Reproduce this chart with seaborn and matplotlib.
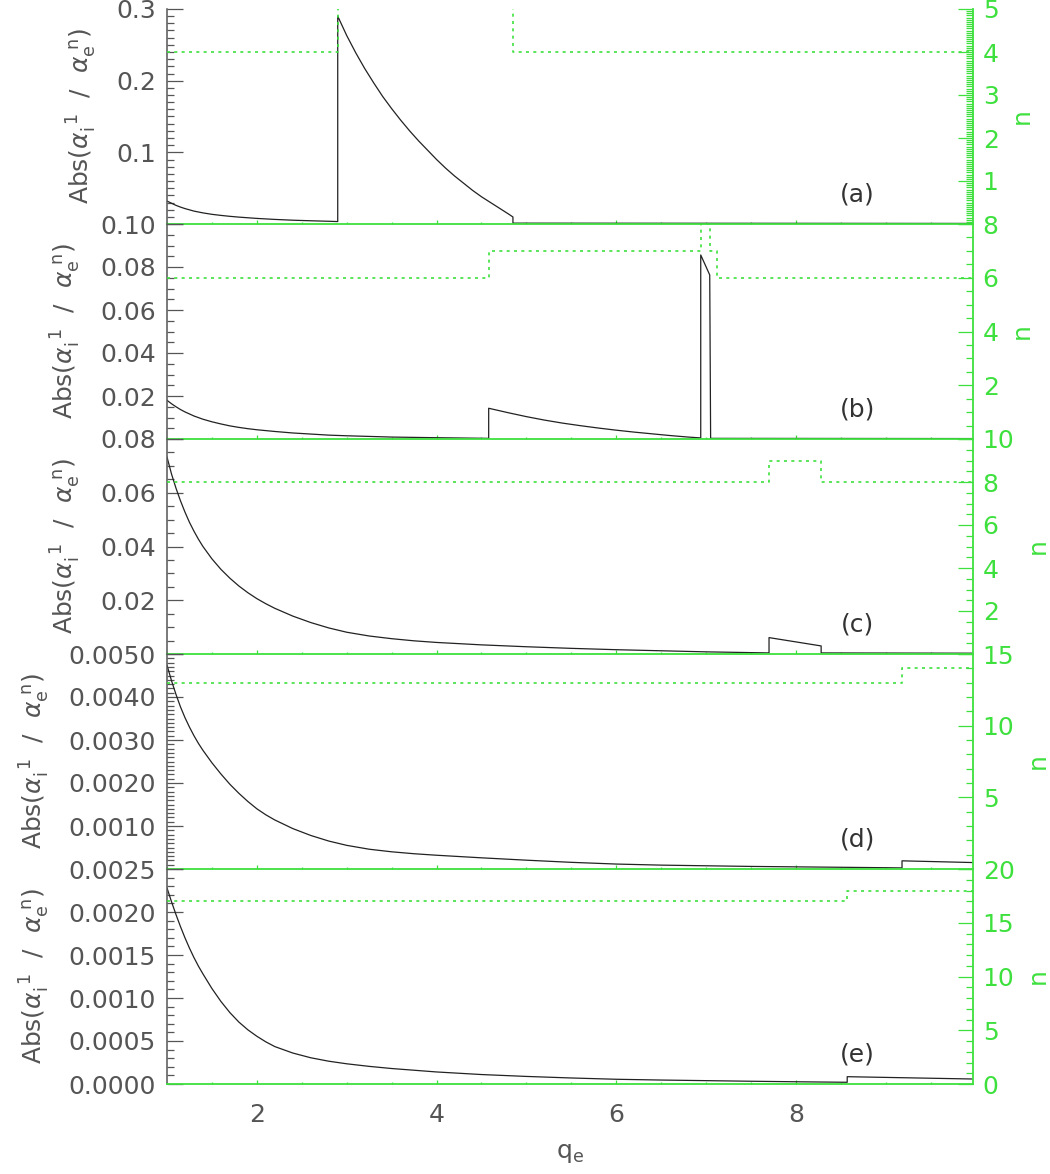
import numpy as np
import pandas as pd
import matplotlib
matplotlib.use("Agg")
import matplotlib.pyplot as plt
import seaborn as sns
from matplotlib.ticker import MultipleLocator, FuncFormatter

# ---------------- data ----------------
# panel (a)
qa = [1.0, 1.05, 1.1, 1.15, 1.2, 1.3, 1.4, 1.5, 1.6, 1.7, 1.8, 2.0, 2.2, 2.4, 2.6,
      2.8, 2.9,
      2.9, 3.0, 3.1, 3.2, 3.3, 3.4, 3.5, 3.6, 3.7, 3.8, 3.9, 4.0, 4.1, 4.2, 4.3,
      4.4, 4.5, 4.6, 4.7, 4.8, 4.85, 4.85, 9.97]
va = [0.032, 0.029, 0.026, 0.0236, 0.0215, 0.018, 0.0155, 0.0135, 0.012, 0.0107,
      0.0096, 0.0078, 0.0064, 0.0053, 0.0045, 0.0038, 0.0034,
      0.290, 0.263, 0.239, 0.217, 0.197, 0.178, 0.161, 0.145, 0.130, 0.116, 0.103,
      0.090, 0.078, 0.067, 0.057, 0.047, 0.038, 0.030, 0.022, 0.014, 0.0098,
      0.0012, 0.0008]
# panel (b)
qb = [1.0, 1.05, 1.1, 1.15, 1.2, 1.3, 1.4, 1.5, 1.6, 1.7, 1.8, 1.9, 2.0, 2.2, 2.4,
      2.6, 2.8, 3.0, 3.5, 4.0, 4.58,
      4.58, 4.8, 5.0, 5.2, 5.4, 5.6, 5.8, 6.0, 6.2, 6.4, 6.6, 6.8, 6.94,
      6.94, 7.04, 7.05, 9.97]
vb = [0.0180, 0.0164, 0.0150, 0.0137, 0.0126, 0.0107, 0.0092, 0.0080, 0.0070,
      0.0061, 0.0054, 0.0048, 0.0043, 0.0035, 0.0028, 0.0023, 0.0018, 0.0015,
      0.0009, 0.0006, 0.0003,
      0.0143, 0.0122, 0.0104, 0.0088, 0.0074, 0.0062, 0.0051, 0.0041, 0.0032,
      0.0024, 0.0016, 0.0009, 0.0005,
      0.0856, 0.0763, 0.0003, 0.0002]
# panel (c)
qc = [1.0, 1.05, 1.1, 1.15, 1.2, 1.25, 1.3, 1.35, 1.4, 1.5, 1.6, 1.7, 1.8, 1.9,
      2.0, 2.1, 2.2, 2.4, 2.6, 2.8, 3.0, 3.25, 3.5, 3.75, 4.0, 4.5, 5.0, 5.5,
      6.0, 6.5, 7.0, 7.7, 7.7, 8.28, 8.28, 9.97]
vc = [0.0733, 0.0670, 0.0617, 0.0570, 0.0528, 0.0490, 0.0457, 0.0427, 0.0400,
      0.0354, 0.0315, 0.0282, 0.0253, 0.0228, 0.0206, 0.0187, 0.0170, 0.0141,
      0.0117, 0.0097, 0.0081, 0.0067, 0.0057, 0.0049, 0.0043, 0.0034, 0.0027,
      0.0021, 0.0016, 0.0012, 0.0008, 0.0004, 0.0061, 0.0030, 0.0004, 0.0003]
# panel (d)
qd = [1.0, 1.05, 1.1, 1.15, 1.2, 1.25, 1.3, 1.35, 1.4, 1.5, 1.6, 1.7, 1.8, 1.9,
      2.0, 2.1, 2.2, 2.4, 2.6, 2.8, 3.0, 3.25, 3.5, 3.75, 4.0, 4.5, 5.0, 5.5,
      6.0, 6.5, 7.0, 7.5, 8.0, 8.5, 9.0, 9.18, 9.18, 9.97]
vd = [0.00474, 0.00438, 0.00406, 0.00377, 0.00352, 0.00330, 0.00310, 0.00292,
      0.00276, 0.00247, 0.00221, 0.00197, 0.00176, 0.00157, 0.00140, 0.00126,
      0.00114, 0.00094, 0.00078, 0.00065, 0.00055, 0.00046, 0.00040, 0.000355,
      0.00032, 0.00026, 0.000205, 0.000155, 0.000115, 0.00009, 0.000075,
      0.00006, 0.00005, 0.00004, 0.00003, 0.000025, 0.00019, 0.00015]
# panel (e)
qe = [1.0, 1.05, 1.1, 1.15, 1.2, 1.25, 1.3, 1.35, 1.4, 1.5, 1.6, 1.7, 1.8, 1.9,
      2.0, 2.1, 2.2, 2.4, 2.6, 2.8, 3.0, 3.25, 3.5, 3.75, 4.0, 4.5, 5.0, 5.5,
      6.0, 6.5, 7.0, 7.5, 8.0, 8.57, 8.57, 9.97]
ve = [0.00228, 0.00212, 0.00197, 0.00183, 0.00170, 0.00158, 0.00147, 0.00137,
      0.00128, 0.00111, 0.00096, 0.00083, 0.00072, 0.00063, 0.000555, 0.00049,
      0.000435, 0.00036, 0.000305, 0.000265, 0.000235, 0.000205, 0.00018,
      0.00016, 0.00014, 0.00011, 0.000088, 0.00007, 0.000055, 0.000046,
      0.000039, 0.000032, 0.000026, 0.00002, 0.000085, 0.000058]

# n (right axis, dotted green steps): change points and levels
na_edges = [1.0, 2.9, 4.85, 9.97]
na_levels = [4, 6, 4]
nb_edges = [1.0, 4.58, 6.94, 7.04, 7.12, 9.97]
nb_levels = [6, 7, 8, 7, 6]
nc_edges = [1.0, 7.7, 8.28, 9.97]
nc_levels = [8, 9, 8]
nd_edges = [1.0, 9.18, 9.97]
nd_levels = [13, 14]
ne_edges = [1.0, 8.57, 9.97]
ne_levels = [17, 18]

panel_labels = ["(a)", "(b)", "(c)", "(d)", "(e)"]
x_ticks = [2, 4, 6, 8]

# ---------------- styling ----------------
sns.set_style("ticks")
plt.rcParams["font.family"] = ["DejaVu Sans"]
plt.rcParams["mathtext.fontset"] = "dejavusans"

GREEN = "#3ee03e"
GRAY = "#555555"
BLACK = "#222222"

curves = [(qa, va), (qb, vb), (qc, vc), (qd, vd), (qe, ve)]
nsteps = [(na_edges, na_levels), (nb_edges, nb_levels), (nc_edges, nc_levels),
          (nd_edges, nd_levels), (ne_edges, ne_levels)]
ylims = [(0, 0.3), (0, 0.10), (0, 0.08), (0, 0.005), (0, 0.0025)]
ymaj = [0.1, 0.02, 0.02, 0.001, 0.0005]
ymin = [0.01, 0.005, 0.005, 0.0001, 0.0001]
yfmt = ["%.1f", "%.2f", "%.2f", "%.4f", "%.4f"]
nlims = [(0, 5), (0, 8), (0, 10), (0, 15), (0, 20)]
nmaj = [1, 2, 2, 5, 5]
nmin = [0.05, 0.5, 0.5, 1, 1]

fig = plt.figure(figsize=(10.5, 11.74), dpi=100)
left, right = 167 / 1050, 973 / 1050
top_px, h_px = 9, 215
FS = 18

for i in range(5):
    y0 = 1 - (top_px + (i + 1) * h_px) / 1174
    ax = fig.add_axes([left, y0, right - left, h_px / 1174])
    ax2 = ax.twinx()
    last = (i == 4)

    q, v = curves[i]
    df = pd.DataFrame({"q": q, "v": v})
    sns.lineplot(data=df, x="q", y="v", ax=ax, color=BLACK, lw=0.9,
                 estimator=None, sort=False)

    edges, levels = nsteps[i]
    dfn = pd.DataFrame({"q": edges, "n": list(levels) + [levels[-1]]})
    sns.lineplot(data=dfn, x="q", y="n", ax=ax2, color=GREEN, lw=1.2,
                 estimator=None, sort=False, drawstyle="steps-post",
                 linestyle=(0, (1.8, 2.6)))

    ax.set_xlim(1.0, 9.97)
    ax.set_ylim(*ylims[i])
    ax2.set_ylim(*nlims[i])

    # spines
    for s in ["top", "right"]:
        ax.spines[s].set_visible(False)
    ax.spines["left"].set_color(GRAY)
    ax.spines["left"].set_linewidth(1.1)
    ax.spines["bottom"].set_color(GREEN)
    ax.spines["bottom"].set_linewidth(1.3)
    for s in ["top", "left", "bottom"]:
        ax2.spines[s].set_visible(False)
    ax2.spines["right"].set_color(GREEN)
    ax2.spines["right"].set_linewidth(1.3)

    # left ticks
    ax.yaxis.set_major_locator(MultipleLocator(ymaj[i]))
    ax.yaxis.set_minor_locator(MultipleLocator(ymin[i]))
    fmt = yfmt[i]
    ax.yaxis.set_major_formatter(FuncFormatter(
        lambda val, pos, fmt=fmt, last=last: "" if (abs(val) < 1e-12 and not last) else fmt % val))
    ax.tick_params(axis="y", which="major", direction="in", length=11.5, width=0.9,
                   color=GRAY, labelcolor=GRAY, labelsize=FS, pad=8)
    ax.tick_params(axis="y", which="minor", direction="in", length=5, width=0.9,
                   color=GRAY)

    # right ticks
    ax2.yaxis.set_major_locator(MultipleLocator(nmaj[i]))
    ax2.yaxis.set_minor_locator(MultipleLocator(nmin[i]))
    ax2.yaxis.set_major_formatter(FuncFormatter(
        lambda val, pos, last=last: "" if (abs(val) < 1e-12 and not last) else "%d" % round(val)))
    ax2.tick_params(axis="y", which="major", direction="in", length=11, width=0.9,
                    color=GREEN, labelcolor=GREEN, labelsize=FS, pad=7)
    ax2.tick_params(axis="y", which="minor", direction="in", length=5, width=0.9,
                    color=GREEN)
    ax2.tick_params(axis="x", which="both", bottom=False, top=False,
                    labelbottom=False)

    # x ticks (green, inward)
    ax.set_xticks(x_ticks)
    ax.xaxis.set_minor_locator(MultipleLocator(0.5))
    ax.tick_params(axis="x", which="major", direction="in", length=3, width=0.9,
                   color=GREEN, labelcolor=GRAY, labelsize=FS, pad=14,
                   labelbottom=last)
    ax.tick_params(axis="x", which="minor", direction="in", length=1.5, width=0.9,
                   color=GREEN)

    ax.set_ylabel(r"Abs($\alpha_{\mathrm{i}}^{\ 1}$  /  $\alpha_{\mathrm{e}}^{\ \mathrm{n}}$)",
                  fontsize=FS, color=GRAY, labelpad=12)
    ax2.set_ylabel("n", fontsize=FS, color=GREEN, labelpad=8)
    if last:
        ax.set_xlabel(r"q$_{\rm e}$", fontsize=FS, color=GRAY, labelpad=10)
    else:
        ax.set_xlabel("")

    ax.text(0.857, 0.135, panel_labels[i], transform=ax.transAxes,
            ha="center", va="center", fontsize=FS, color="#333333")

    ax.set_facecolor("none")
    if ax.get_legend():
        ax.get_legend().remove()

fig.savefig("out.png", dpi=100, facecolor="white")
